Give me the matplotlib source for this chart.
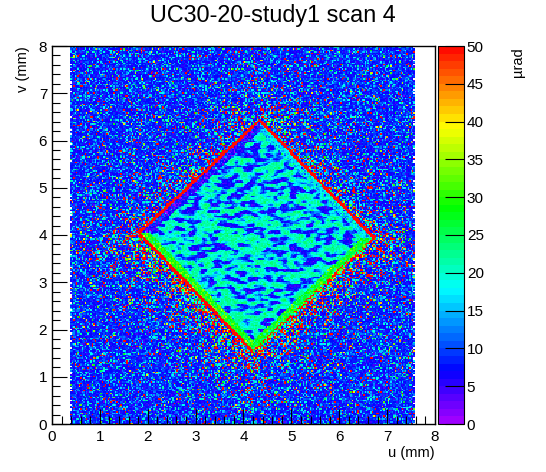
import colorsys
import numpy as np
import matplotlib
matplotlib.use("Agg")
import matplotlib.pyplot as plt
from matplotlib.colors import ListedColormap, BoundaryNorm
from matplotlib.ticker import MultipleLocator

plt.rcParams['font.family'] = ['Liberation Sans', 'DejaVu Sans']

title = "UC30-20-study1 scan 4"
x_label = "u (mm)"
y_label = "v (mm)"
z_label = "µrad"
axis_ticks = [0, 1, 2, 3, 4, 5, 6, 7, 8]
z_ticks = [0, 5, 10, 15, 20, 25, 30, 35, 40, 45, 50]

# scanned area (mm) and bin size
u_range = [0.38, 7.6]
v_range = [0.0, 8.0]
bin_size = 0.03

# diamond corners: top, right, bottom, left
corner_u = [4.34, 6.68, 4.20, 1.86]
corner_v = [6.39, 3.94, 1.57, 4.04]

# levels in µrad
background_median = 8.0
speckle_fraction = [0.12, 0.025, 0.035]   # cyan, green/yellow, red
interior_low = 6.0
interior_high = 22.0
# per edge: top-right, bottom-right, bottom-left, top-left
rim_level = [60, 60, 60, 60]
rim_red_share = [1.0, 0.55, 1.0, 1.0]
inner_band_level = [17, 27, 29, 6]
halo_red = [0.22, 0.3, 0.35, 0.18]
halo_warm = [0.12, 0.16, 0.2, 0.08]

rng = np.random.default_rng(4)

u_edges = np.arange(u_range[0], u_range[1] + 1e-9, bin_size)
v_edges = np.arange(v_range[0], v_range[1] + 1e-9, bin_size)
uc = 0.5 * (u_edges[1:] + u_edges[:-1])
vc = 0.5 * (v_edges[1:] + v_edges[:-1])
U, V = np.meshgrid(uc, vc)


def smooth_noise(shape, su, sv):
    white = rng.standard_normal(shape)
    ku = np.fft.fftfreq(shape[1])
    kv = np.fft.fftfreq(shape[0])
    KV, KU = np.meshgrid(kv, ku, indexing="ij")
    filt = np.exp(-2 * np.pi ** 2 * ((KU * su) ** 2 + (KV * sv) ** 2))
    out = np.real(np.fft.ifft2(np.fft.fft2(white) * filt))
    return out / out.std()


# distance to each diamond edge, positive inside
dists = []
for i in range(4):
    j = (i + 1) % 4
    du = corner_u[j] - corner_u[i]
    dv = corner_v[j] - corner_v[i]
    n = np.hypot(du, dv)
    nu, nv = dv / n, -du / n
    dists.append((U - corner_u[i]) * nu + (V - corner_v[i]) * nv)
dists = np.array(dists)
depth = dists.min(axis=0)
nearest = dists.argmin(axis=0)

# background: mostly blue with scattered speckles, denser near the diamond
near = np.where(depth < 0, np.exp(depth / 0.4), 0.0)
p_red = speckle_fraction[2] + np.array(halo_red)[nearest] * near
p_warm = speckle_fraction[1] + np.array(halo_warm)[nearest] * near
p_cyan = speckle_fraction[0] * (1 + near)
z = background_median * np.exp(0.28 * rng.standard_normal(U.shape))
r = rng.random(U.shape)
m = r < p_cyan
z[m] = rng.uniform(13, 22, m.sum())
m = (r >= p_cyan) & (r < p_cyan + p_warm)
z[m] = rng.uniform(22, 45, m.sum())
m = (r >= p_cyan + p_warm) & (r < p_cyan + p_warm + p_red)
z[m] = 60

# interior texture: teal with blue streaks
tex = smooth_noise(U.shape, 1.6, 0.8)
mid = 0.5 * (interior_low + interior_high)
amp = 0.5 * (interior_high - interior_low)
inner = mid - amp * np.tanh(1.5 * (tex - 0.3))
inner += rng.normal(0, 1.5, U.shape)
inside = depth >= 0
z[inside] = inner[inside]

# bands along the edges
band = (depth >= 0) & (depth < 0.14)
z[band] = np.array(inner_band_level)[nearest[band]] + rng.normal(0, 3.5, band.sum())
rim = (depth < 0) & (depth > -0.06)
red = rng.random(U.shape) < np.array(rim_red_share)[nearest]
z[rim & red] = np.array(rim_level)[nearest[rim & red]]
z[rim & ~red] = rng.uniform(18, 35, (rim & ~red).sum())

# ragged left and right borders of the scan
z[:, 0][rng.random(len(vc)) < 0.2] = np.nan
z[:, -1][rng.random(len(vc)) < 0.2] = np.nan

# values above the top of the scale are drawn in the top colour
z = np.clip(z, 0.01, 49.99)

# 50-level rainbow palette (violet -> red)
colors = [colorsys.hls_to_rgb(280 * (1 - (k + 0.5) / 50) / 360, 0.5, 1.0) for k in range(50)]
cmap = ListedColormap(colors)
cmap.set_bad((1, 1, 1, 0))
norm = BoundaryNorm(np.linspace(0, 50, 51), 50)

fig = plt.figure(figsize=(5.46, 4.72), dpi=100)
ax = fig.add_axes([52 / 546, 48 / 472, 383 / 546, 378 / 472])
mesh = ax.pcolormesh(u_edges, v_edges, np.ma.masked_invalid(z), cmap=cmap, norm=norm,
                     shading="flat", rasterized=True)
ax.set_xlim(0, 8)
ax.set_ylim(0, 8)
ax.set_xticks(axis_ticks)
ax.set_yticks(axis_ticks)
ax.xaxis.set_minor_locator(MultipleLocator(0.2))
ax.yaxis.set_minor_locator(MultipleLocator(0.2))
ax.tick_params(which="both", direction="in", top=False, right=False, labelsize=11)
ax.tick_params(which="major", length=11, width=0.8)
ax.tick_params(which="minor", length=5.5, width=0.8)
ax.tick_params(axis="x", pad=4)
for s in ax.spines.values():
    s.set_linewidth(1)
ax.set_xlabel(x_label, loc="right", fontsize=10.5, labelpad=2)
ax.set_ylabel(y_label, loc="top", fontsize=10.5, labelpad=6)

cax = fig.add_axes([438 / 546, 48 / 472, 26 / 546, 378 / 472])
cb = fig.colorbar(mesh, cax=cax, ticks=z_ticks)
cb.outline.set_linewidth(0.8)
cax.tick_params(direction="in", length=14, width=0.8, labelsize=11, pad=2)
cax.minorticks_off()
fig.text(518 / 546, 1 - 47 / 472, z_label, rotation=90, ha="center", va="top", fontsize=10.5)

fig.suptitle(title, x=0.5, y=1 - 4 / 472, va="top", fontsize=16.8)
fig.savefig("out.png", dpi=100)
